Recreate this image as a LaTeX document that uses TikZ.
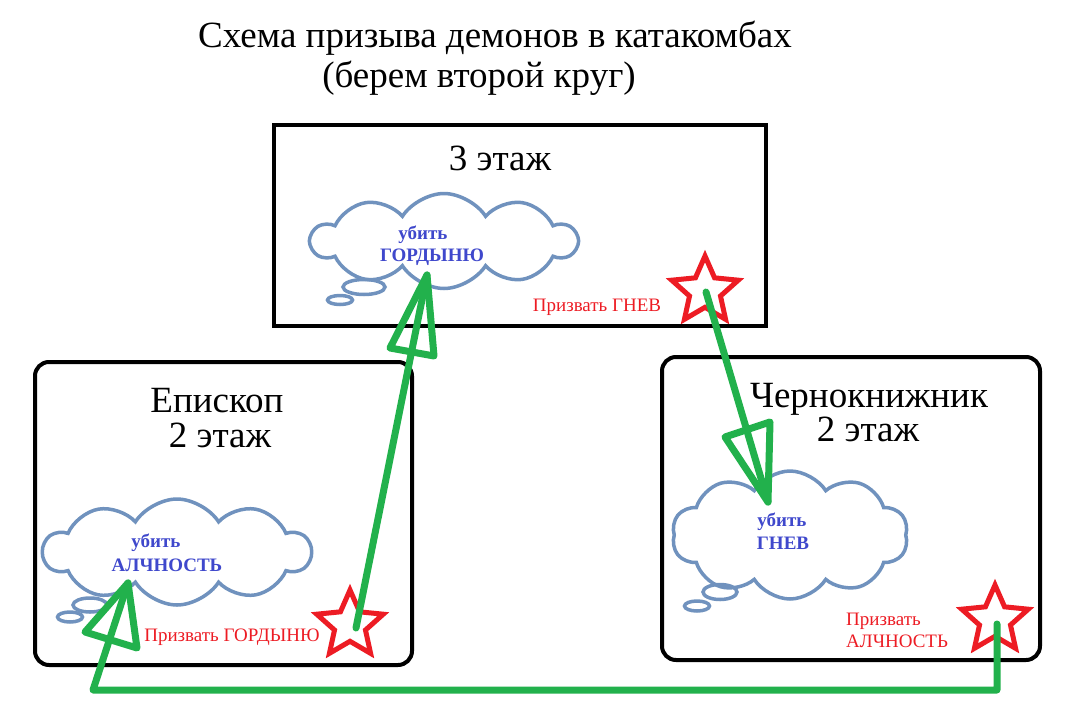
\documentclass[tikz,border=0pt]{standalone}
\usepackage{fontspec}
\setmainfont{Liberation Serif}
\usetikzlibrary{shapes.geometric,shapes.symbols}
\definecolor{pgreen}{RGB}{34,177,76}
\definecolor{pred}{RGB}{237,28,36}
\definecolor{pcloud}{RGB}{112,146,190}
\definecolor{pblue}{RGB}{63,72,204}
\begin{document}
\begin{tikzpicture}[x=1pt,y=-1pt,
 box/.style={draw=black,line width=4pt,inner sep=0},
 rbox/.style={box,rounded corners=14pt},
 cloudbox/.style={cloud,draw=pcloud,line width=3.5pt,cloud puffs=10,cloud puff arc=115,inner sep=0},
 tail/.style={ellipse,draw=pcloud,line width=3.5pt,inner sep=0},
 redstar/.style={star,star points=5,star point ratio=2.15,draw=pred,line width=5pt,minimum size=70pt,inner sep=0},
 ctext/.style={text=pblue,font=\fontsize{19}{22}\selectfont\bfseries,inner sep=0},
 rtext/.style={text=pred,font=\fontsize{19}{22}\selectfont,inner sep=0},
 big/.style={font=\fontsize{37}{33}\selectfont,align=center,inner sep=0},
 bigb/.style={big,anchor=base},
 upper/.style={bigb,text depth=1pt},
 lower/.style={bigb,text height=24pt},
 garrow/.style={draw=pgreen,line width=7pt,line cap=round,line join=round}]

\useasboundingbox[fill=white] (0,0) rectangle (1079,718);

% title
\node[big] (t1) at (495,38) {Схема призыва демонов в катакомбах};
\node[big] (t2) at (479,78) {(берем второй круг)};

% boxes
\node[box,minimum width=492,minimum height=201] (top) at (520,225.5) {};
\node[rbox,minimum width=377,minimum height=303] (left) at (223.5,513.5) {};
\node[rbox,minimum width=378,minimum height=303] (right) at (851,508.5) {};

\node[bigb] (l3) at (500,170) {3 этаж};
\node[upper] (lep1) at (217,412) {Епископ};
\node[lower] (lep2) at (220,447) {2 этаж};
\node[upper] (lch1) at (869,407) {Чернокнижник};
\node[lower] (lch2) at (868,441) {2 этаж};

% clouds
\node[cloudbox,minimum width=265,minimum height=95] (ctop) at (444,241) {};
\node[tail,minimum width=42,minimum height=15] (ttop1) at (364,287) {};
\node[tail,minimum width=25,minimum height=9] (ttop2) at (340,300) {};
\node[ctext] (ctop1) at (423,235) {убить};
\node[ctext] (ctop2) at (432,257) {ГОРДЫНЮ};

\node[cloudbox,minimum width=267,minimum height=106] (cleft) at (177,552) {};
\node[tail,minimum width=34,minimum height=14] (tleft1) at (90,605) {};
\node[tail,minimum width=25,minimum height=10] (tleft2) at (70,617) {};
\node[ctext] (cleft1) at (156,543) {убить};
\node[ctext] (cleft2) at (167,565) {АЛЧНОСТЬ};

\node[cloudbox,minimum width=236,minimum height=128] (cright) at (790,535) {};
\node[tail,minimum width=34,minimum height=15] (tright1) at (720,592) {};
\node[tail,minimum width=25,minimum height=10] (tright2) at (697,606) {};
\node[ctext] (cright1) at (782,522) {убить};
\node[ctext] (cright2) at (783,543) {ГНЕВ};

% red labels
\node[rtext] (rtop) at (597,307) {Призвать ГНЕВ};
\node[rtext] (rleft) at (232,637) {Призвать ГОРДЫНЮ};
\node[rtext,anchor=west,align=left] (rright) at (846,630) {Призвать\\[0pt]АЛЧНОСТЬ};

% stars
\node[redstar] (stop) at (705,291) {};
\node[redstar] (sleft) at (350,625) {};
\node[redstar] (sright) at (995,620) {};

% arrow coordinates
\coordinate (a1s) at (356,628);
\coordinate (a1t) at (427,275);
\coordinate (a1l) at (390,348);
\coordinate (a1r) at (434,356);

\coordinate (a2s) at (706,292);
\coordinate (a2t) at (768,502);
\coordinate (a2l) at (725,437);
\coordinate (a2r) at (770,422);

\coordinate (a3s) at (997,624);
\coordinate (a3c1) at (997,690);
\coordinate (a3c2) at (93,690);
\coordinate (a3t) at (128,583);
\coordinate (a3l) at (85,632);
\coordinate (a3r) at (137,648);

\draw[garrow] (a1s) -- (a1t);
\draw[garrow] (a1t) -- (a1l) -- (a1r) -- cycle;
\draw[garrow] (a2s) -- (a2t);
\draw[garrow] (a2t) -- (a2l) -- (a2r) -- cycle;
\draw[garrow] (a3s) -- (a3c1) -- (a3c2) -- (a3t);
\draw[garrow] (a3t) -- (a3l) -- (a3r) -- cycle;
\end{tikzpicture}
\end{document}
